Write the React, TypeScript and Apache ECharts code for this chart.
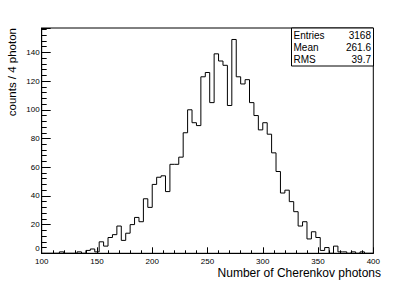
import React, { useEffect, useRef } from "react";
import * as echarts from "echarts";

const binStart = 100;
const binWidth = 4;
const counts = [
  0, 0, 0, 0, 1, 0, 0, 0, 1, 0,
  2, 3, 1, 8, 5, 11, 13, 19, 9, 14,
  20, 25, 22, 38, 32, 48, 53, 54, 43, 62,
  62, 67, 84, 100, 91, 89, 123, 126, 105, 139,
  134, 131, 103, 149, 123, 118, 121, 105, 96, 86,
  91, 83, 70, 57, 42, 44, 36, 29, 19, 22,
  10, 15, 11, 2, 4, 0, 5, 1, 1, 0,
  1, 0, 1, 0, 0,
];
const statNames = ["Entries", "Mean", "RMS"];
const statValues = ["3168", "261.6", "39.7"];
const xTitle = "Number of Cherenkov photons";
const yTitle = "counts / 4 photon";

export default function App() {
  const ref = useRef<HTMLDivElement>(null);
  useEffect(() => {
    if (!ref.current) return;
    const chart = echarts.init(ref.current, null, { renderer: "svg" });
    const pts: number[][] = counts.map((c, i) => [binStart + i * binWidth, c]);
    pts.push([binStart + counts.length * binWidth, counts[counts.length - 1]]);
    const font = "Liberation Sans, Arial, Helvetica, sans-serif";
    const rowH = 12.3;
    const statGraphics: any[] = [
      {
        type: "rect",
        shape: { x: 291.5, y: 28, width: 82, height: 38 },
        style: { fill: "#fff", stroke: "#000", lineWidth: 1 },
        z: 10,
      },
    ];
    statNames.forEach((n, i) => {
      statGraphics.push({
        type: "text",
        x: 293.5,
        y: 35 + i * rowH,
        z: 11,
        style: { text: n, fontSize: 10, fontFamily: font, fill: "#000", textAlign: "left", textVerticalAlign: "middle" },
      });
      statGraphics.push({
        type: "text",
        x: 371,
        y: 35 + i * rowH,
        z: 11,
        style: { text: statValues[i], fontSize: 10, fontFamily: font, fill: "#000", textAlign: "right", textVerticalAlign: "middle" },
      });
    });
    chart.setOption({
      animation: false,
      backgroundColor: "#fff",
      grid: {
        left: 41.7,
        right: 41.7,
        top: 28,
        bottom: 28.7,
        show: true,
        borderColor: "#000",
        borderWidth: 1,
        backgroundColor: "transparent",
      },
      xAxis: {
        type: "value",
        min: 100,
        max: 400,
        interval: 50,
        axisLine: { show: true, lineStyle: { color: "#000", width: 1 } },
        axisTick: { show: true, inside: true, length: 6, lineStyle: { color: "#000" } },
        minorTick: { show: true, splitNumber: 5, length: 3, lineStyle: { color: "#000" } },
        axisLabel: { fontSize: 8, fontFamily: font, color: "#000", margin: 4 },
        splitLine: { show: false },
      },
      yAxis: {
        type: "value",
        min: 0,
        max: 157,
        interval: 20,
        axisLine: { show: true, lineStyle: { color: "#000", width: 1 } },
        axisTick: { show: true, inside: true, length: 9, lineStyle: { color: "#000" } },
        minorTick: { show: true, splitNumber: 5, length: 5, lineStyle: { color: "#000" } },
        axisLabel: {
          fontSize: 8,
          fontFamily: font,
          color: "#000",
          margin: 2,
          showMaxLabel: false,
          formatter: (v: number) => (v === 0 ? "{z|0}" : String(v)),
          rich: { z: { fontSize: 8, fontFamily: font, color: "#000", padding: [0, 0, 9, 0] } },
        },
        splitLine: { show: false },
      },
      series: [
        {
          type: "line",
          step: "end",
          data: pts,
          showSymbol: false,
          symbol: "none",
          lineStyle: { color: "#000", width: 1 },
          z: 5,
        },
      ],
      graphic: [
        {
          type: "text",
          x: 381,
          y: 273,
          style: { text: xTitle, fontSize: 12, fontFamily: font, fill: "#000", textAlign: "right", textVerticalAlign: "middle" },
        },
        {
          type: "text",
          x: 12,
          y: 28,
          rotation: Math.PI / 2,
          style: { text: yTitle, fontSize: 11.5, fontFamily: font, fill: "#000", textAlign: "right", textVerticalAlign: "middle" },
        },
        ...statGraphics,
      ],
    });
    return () => chart.dispose();
  }, []);
  return <div ref={ref} style={{ position: "fixed", left: 0, top: 0, width: 415, height: 282 }} />;
}
